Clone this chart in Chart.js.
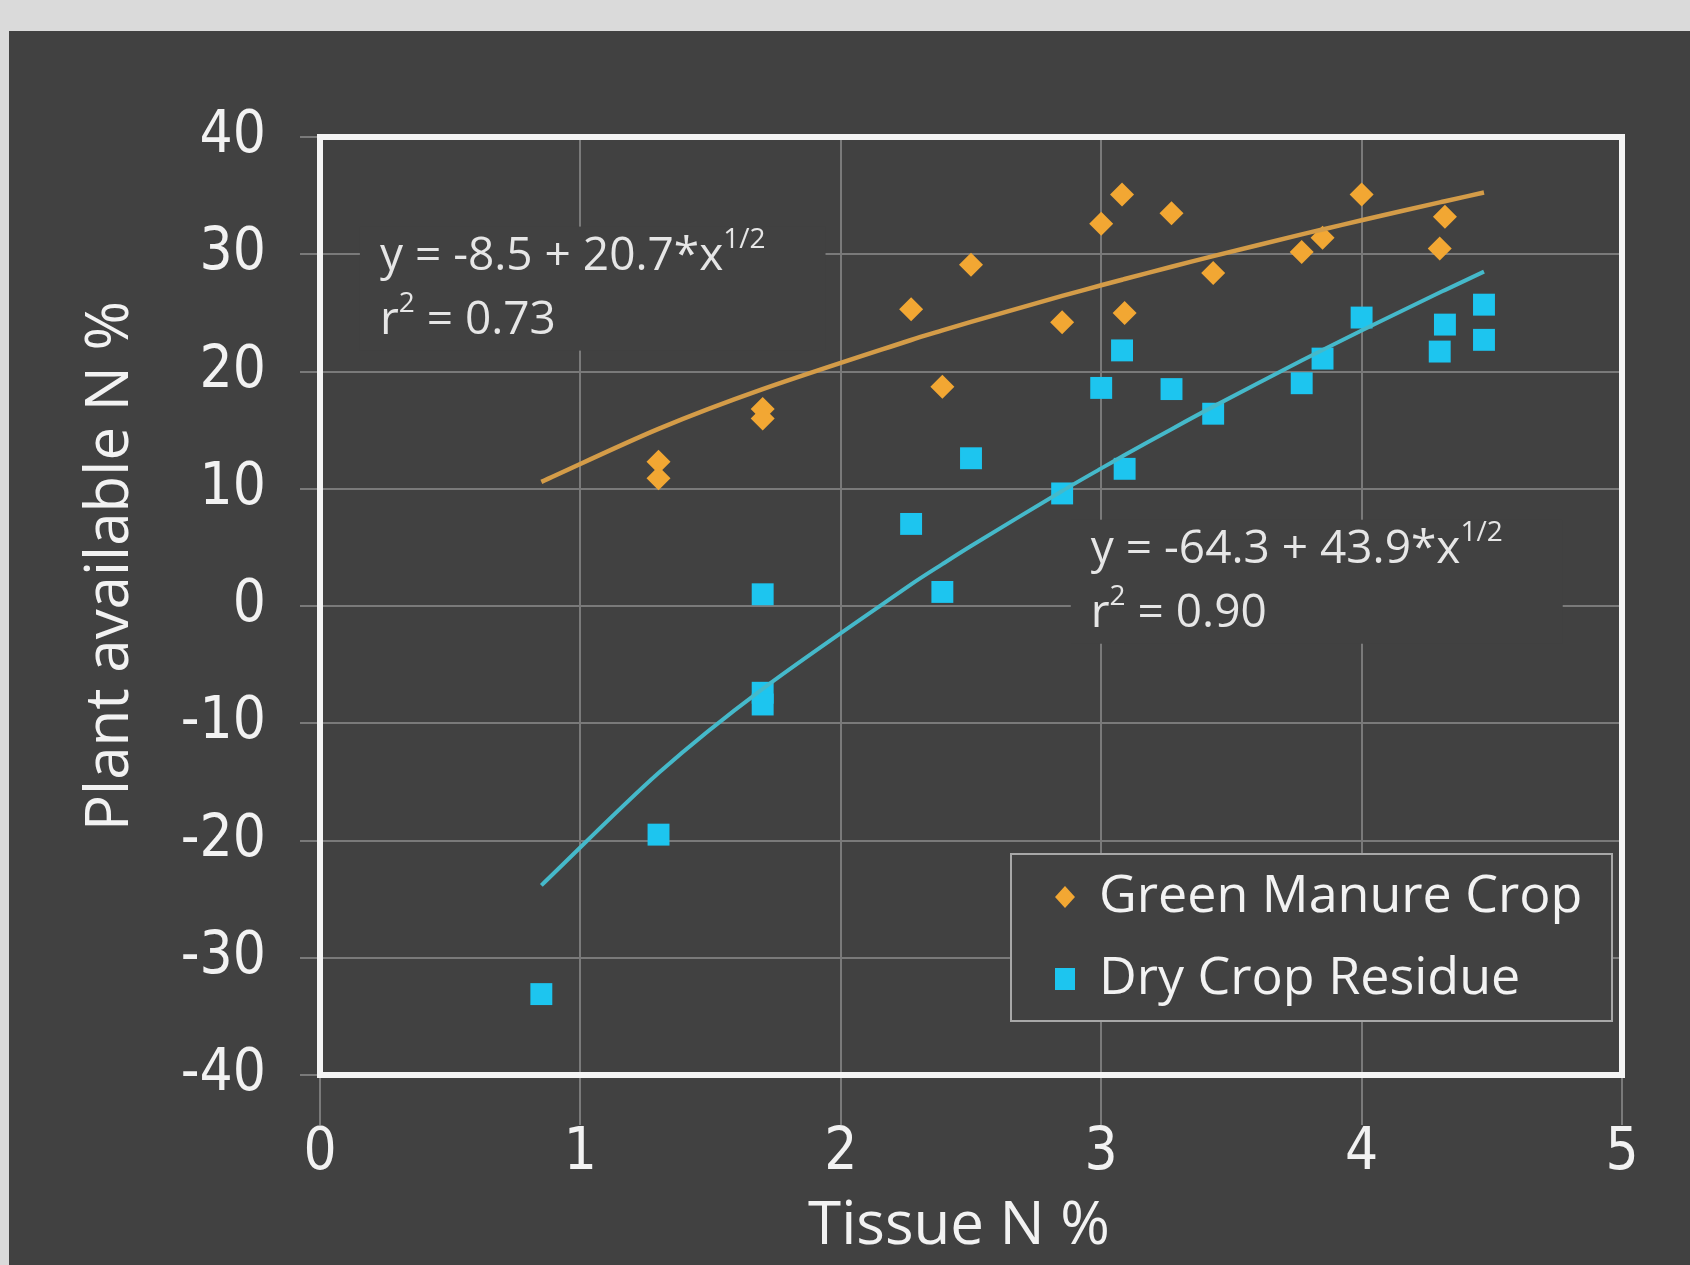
<!DOCTYPE html>
<html>
<head>
<meta charset="utf-8">
<script src="https://cdn.jsdelivr.net/npm/chart.js@4.4.1/dist/chart.umd.min.js"></script>
<style>
  html, body { margin: 0; padding: 0; width: 1690px; height: 1265px; overflow: hidden; background: #dadada; }
  #panel { position: absolute; left: 9px; top: 31px; width: 1681px; height: 1234px; background: #414141; }
  canvas { display: block; }
</style>
</head>
<body>
<div id="panel"><canvas id="chart" width="1681" height="1234"></canvas></div>
<script>
// Axis ticks
const xTicks = [0, 1, 2, 3, 4, 5];
const yTicks = [-40, -30, -20, -10, 0, 10, 20, 30, 40];

// Series names
const seriesNames = ['Green Manure Crop', 'Dry Crop Residue'];

// Green manure crop: tissue N % vs plant available N %
const greenX = [1.30, 1.30, 1.70, 1.70, 2.27, 2.39, 2.50, 2.85, 3.00, 3.08, 3.09, 3.27, 3.43, 3.77, 3.85, 4.00, 4.30, 4.32];
const greenY = [12.3, 10.9, 16.8, 16.0, 25.3, 18.7, 29.1, 24.2, 32.6, 35.1, 25.0, 33.5, 28.4, 30.2, 31.4, 35.1, 30.5, 33.2];

// Dry crop residue
const dryX = [0.85, 1.30, 1.70, 1.70, 1.70, 2.27, 2.39, 2.50, 2.85, 3.00, 3.08, 3.09, 3.27, 3.43, 3.77, 3.85, 4.00, 4.30, 4.32, 4.47, 4.47];
const dryY = [-33.1, -19.5, 1.0, -7.4, -8.4, 7.0, 1.2, 12.6, 9.6, 18.6, 21.8, 11.7, 18.5, 16.4, 19.0, 21.1, 24.6, 21.7, 24.0, 25.7, 22.7];

// Square-root fits printed on the chart: y = a + b * x^(1/2)
const fitIntercept = [-8.5, -64.3];
const fitSlope = [20.7, 43.9];
const fitR2 = [0.73, 0.90];

const colMarker = ['#f2a733', '#1dc5ef'];
const colFit = ['#d49c48', '#45b9ca'];
const textColor = '#f2f2f2';
const panelColor = '#414141';
const gridColor = '#7a7a7a';

const tickFont = "'Liberation Sans Narrow', 'DejaVu Sans Condensed', 'Liberation Sans', sans-serif";
const labelFont = "'Open Sans', 'Liberation Sans', sans-serif";

const toPoints = (xs, ys) => xs.map((x, i) => ({ x: x, y: ys[i] }));

// fitted curves evaluated at the observed tissue N values of both series
const fitXs = Array.from(new Set(greenX.concat(dryX))).sort((a, b) => a - b);
const fitPoints = (k) => fitXs.map(x => ({ x: x, y: fitIntercept[k] + fitSlope[k] * Math.sqrt(x) }));

// equation labels anchored in data space
const eqAnchors = [{ x: 0.23, y: 29.8 }, { x: 2.96, y: 4.8 }];

function drawSupText(ctx, x, y, parts, size) {
  let cx = x;
  parts.forEach(p => {
    if (p.sup) {
      ctx.font = `${Math.round(size * 0.6)}px ${labelFont}`;
      ctx.fillText(p.t, cx, y - size * 0.36);
    } else {
      ctx.font = `${size}px ${labelFont}`;
      ctx.fillText(p.t, cx, y);
    }
    cx += ctx.measureText(p.t).width;
  });
  return cx - x;
}

function measureParts(ctx, parts, size) {
  let w = 0;
  parts.forEach(p => {
    ctx.font = p.sup ? `${Math.round(size * 0.6)}px ${labelFont}` : `${size}px ${labelFont}`;
    w += ctx.measureText(p.t).width;
  });
  return w;
}

const equationPlugin = {
  id: 'equations',
  beforeDatasetsDraw(chart) {
    const ctx = chart.ctx;
    const xs = chart.scales.x, ys = chart.scales.y;
    const size = 46;
    const gap = 64;
    ctx.save();
    ctx.textBaseline = 'middle';
    ctx.textAlign = 'left';
    for (let k = 0; k < 2; k++) {
      const px = xs.getPixelForValue(eqAnchors[k].x);
      const py = ys.getPixelForValue(eqAnchors[k].y);
      const line1 = [{ t: `y = ${fitIntercept[k]} + ${fitSlope[k]}*x` }, { t: '1/2', sup: true }];
      const line2 = [{ t: 'r' }, { t: '2', sup: true }, { t: ` = ${fitR2[k].toFixed(2)}` }];
      const w = Math.max(measureParts(ctx, line1, size), measureParts(ctx, line2, size));
      ctx.fillStyle = panelColor;
      ctx.fillRect(px - 20, py - 30, w + 80, gap + 60);
      ctx.fillStyle = '#e6e6e6';
      drawSupText(ctx, px, py, line1, size);
      drawSupText(ctx, px, py + gap, line2, size);
    }
    ctx.restore();
  }
};

const framePlugin = {
  id: 'frame',
  beforeDatasetsDraw(chart) {
    const a = chart.chartArea;
    const ctx = chart.ctx;
    ctx.save();
    ctx.strokeStyle = '#f4f4f4';
    ctx.lineWidth = 6;
    ctx.strokeRect(a.left, a.top, a.right - a.left, a.bottom - a.top);
    ctx.restore();
  }
};

const axisTitlePlugin = {
  id: 'axisTitles',
  afterDraw(chart) {
    const ctx = chart.ctx;
    const a = chart.chartArea;
    ctx.save();
    ctx.fillStyle = textColor;
    ctx.font = `60px ${labelFont}`;
    ctx.textAlign = 'center';
    ctx.textBaseline = 'middle';
    ctx.fillText('Tissue N %', a.left + 639, a.bottom + 152);
    ctx.translate(102, a.top + 429);
    ctx.rotate(-Math.PI / 2);
    ctx.fillText('Plant available N %', 0, 0);
    ctx.restore();
  }
};

const legendPlugin = {
  id: 'boxLegend',
  afterDatasetsDraw(chart) {
    const ctx = chart.ctx;
    const a = chart.chartArea;
    const right = a.right - 10, bottom = a.bottom - 54;
    const left = right - 601, top = bottom - 167;
    ctx.save();
    ctx.fillStyle = panelColor;
    ctx.fillRect(left, top, right - left, bottom - top);
    ctx.strokeStyle = '#a8a8a8';
    ctx.lineWidth = 2;
    ctx.strokeRect(left, top, right - left, bottom - top);
    const items = chart.data.datasets.filter(d => d.inLegend);
    items.forEach((d, i) => {
      const cy = top + 43 + i * 82;
      const mx = left + 54;
      ctx.fillStyle = d.backgroundColor;
      ctx.beginPath();
      if (d.pointStyle === 'rectRot') {
        ctx.moveTo(mx, cy - 11); ctx.lineTo(mx + 10, cy); ctx.lineTo(mx, cy + 11); ctx.lineTo(mx - 10, cy);
        ctx.closePath();
      } else {
        ctx.rect(mx - 10, cy - 11, 20, 22);
      }
      ctx.fill();
      ctx.fillStyle = textColor;
      ctx.font = `52px ${labelFont}`;
      ctx.textAlign = 'left';
      ctx.textBaseline = 'middle';
      ctx.fillText(d.label, left + 88, cy);
    });
    ctx.restore();
  }
};

new Chart(document.getElementById('chart'), {
  type: 'scatter',
  data: {
    datasets: [
      {
        label: 'fit ' + seriesNames[0], data: fitPoints(0), showLine: true, order: 0,
        borderColor: colFit[0], borderWidth: 4.5, pointRadius: 0, tension: 0.3, fill: false
      },
      {
        label: 'fit ' + seriesNames[1], data: fitPoints(1), showLine: true, order: 0,
        borderColor: colFit[1], borderWidth: 4, pointRadius: 0, tension: 0.3, fill: false
      },
      {
        label: seriesNames[0], data: toPoints(greenX, greenY), inLegend: true, order: 1,
        pointStyle: 'rectRot', pointRadius: 12, backgroundColor: colMarker[0], borderWidth: 0
      },
      {
        label: seriesNames[1], data: toPoints(dryX, dryY), inLegend: true, order: 1,
        pointStyle: 'rect', pointRadius: 15.5, backgroundColor: colMarker[1], borderWidth: 0
      }
    ]
  },
  options: {
    responsive: false,
    animation: false,
    devicePixelRatio: 1,
    layout: { padding: { top: 106, right: 68, bottom: 0, left: 0 } },
    plugins: { legend: { display: false }, tooltip: { enabled: false } },
    scales: {
      x: {
        type: 'linear', min: 0, max: 5,
        afterBuildTicks: s => { s.ticks = xTicks.map(v => ({ value: v })); },
        afterFit: s => { s.height = 190; },
        grid: { color: gridColor, lineWidth: 2, tickLength: 50, tickColor: gridColor },
        border: { display: false },
        ticks: { color: textColor, font: { family: tickFont, size: 58, lineHeight: 1 }, padding: 0, maxRotation: 0, autoSkip: false }
      },
      y: {
        type: 'linear', min: -40, max: 40,
        afterBuildTicks: s => { s.ticks = yTicks.map(v => ({ value: v })); },
        afterFit: s => { s.width = 311; },
        grid: { color: gridColor, lineWidth: 2, tickLength: 20, tickColor: gridColor },
        border: { display: false },
        ticks: { color: textColor, font: { family: tickFont, size: 58, lineHeight: 1 }, padding: 34, autoSkip: false }
      }
    }
  },
  plugins: [equationPlugin, framePlugin, legendPlugin, axisTitlePlugin]
});
</script>
</body>
</html>
